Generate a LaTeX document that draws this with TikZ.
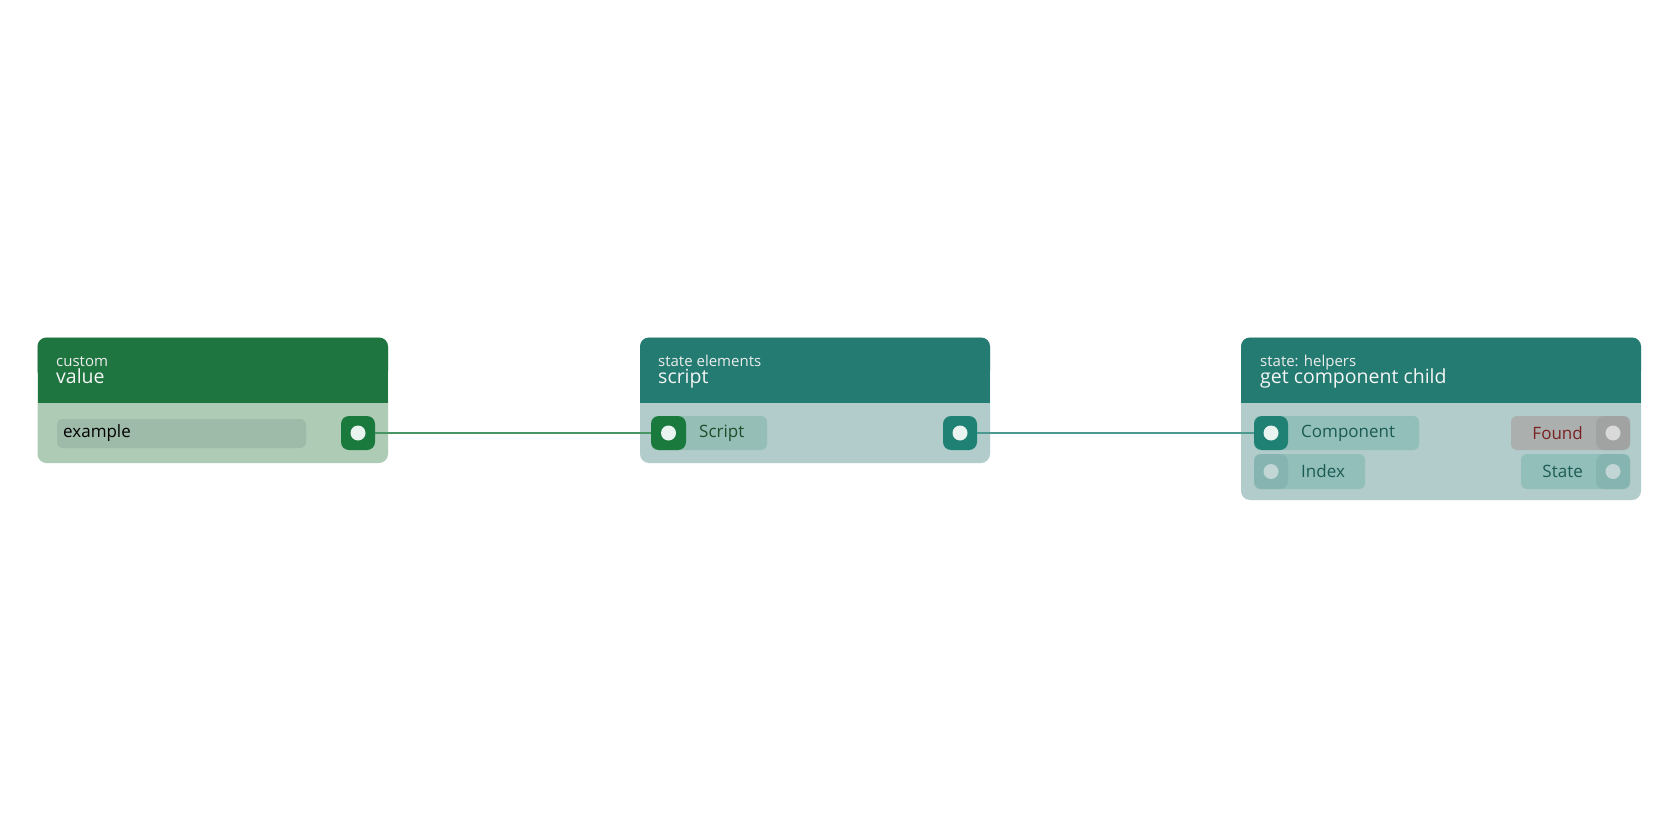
\documentclass[tikz,border=0pt]{standalone}
\usepackage{fontspec}
\setmainfont{Open Sans}
\definecolor{ghead}{HTML}{1F7540}
\definecolor{gbody}{HTML}{ADCBB5}
\definecolor{gfield}{HTML}{9DBBA8}
\definecolor{gport}{HTML}{1A7A3E}
\definecolor{thead}{HTML}{237B71}
\definecolor{tbody}{HTML}{B1CCCB}
\definecolor{tpill}{HTML}{92BFB9}
\definecolor{tport}{HTML}{1F8074}
\definecolor{tdim}{HTML}{86B4B1}
\definecolor{fpill}{HTML}{ABAFAE}
\definecolor{fport}{HTML}{A0A3A2}
\definecolor{ttext}{HTML}{1C5A55}
\definecolor{gtext}{HTML}{1E4F2D}
\definecolor{redtext}{HTML}{7A2222}
\definecolor{dot}{HTML}{E9F3F0}
\begin{document}
\begin{tikzpicture}[x=1pt,y=-1pt,
  sub/.style={anchor=base west,text=white!85!gray,font=\fontsize{15}{15}\selectfont,inner sep=0},
  ttl/.style={anchor=base west,text=white!92!gray,font=\fontsize{19.5}{19.5}\selectfont,inner sep=0},
  lbl/.style={anchor=west,font=\fontsize{17}{17}\selectfont,inner sep=0},
  dotc/.style={fill=dot,draw=none},
  wire/.style={line width=1.6pt}]
\useasboundingbox (0,0) rectangle (1680,840);
\fill[white] (0,0) rectangle (1680,840);
% node 1
\fill[gbody,rounded corners=9] (37.5,337.5) rectangle (388,463);
\fill[ghead,rounded corners=9] (37.5,337.5) rectangle (388,380);
\fill[ghead] (37.5,370) rectangle (388,403);
\node[sub] (n1s) at (56,366) {custom};
\node[ttl] (n1t) at (56,383) {value};
\fill[gfield,rounded corners=6] (57,419) rectangle (306,448);
\node[lbl,text=black] (n1f) at (63,433) {example};
\fill[gport,rounded corners=8] (341,416) rectangle (375,450);
\node[circle,minimum size=15,inner sep=0,dotc] (o1) at (358,433) {};
% node 2
\fill[tbody,rounded corners=9] (640,337.5) rectangle (990,463);
\fill[thead,rounded corners=9] (640,337.5) rectangle (990,380);
\fill[thead] (640,370) rectangle (990,403);
\node[sub] (n2s) at (658,366) {state elements};
\node[ttl] (n2t) at (658,383) {script};
\fill[tpill!80!gfield,rounded corners=6] (651,416) rectangle (767,450);
\fill[gport,rounded corners=8] (651,416) rectangle (686,450);
\node[circle,minimum size=15,inner sep=0,dotc] (i2) at (668.5,433) {};
\node[lbl,text=gtext] (l2) at (699,433) {Script};
\fill[tport,rounded corners=8] (943,416) rectangle (977,450);
\node[circle,minimum size=15,inner sep=0,dotc] (o2) at (960,433) {};
% node 3
\fill[tbody,rounded corners=9] (1241,337.5) rectangle (1641,500);
\fill[thead,rounded corners=9] (1241,337.5) rectangle (1641,380);
\fill[thead] (1241,370) rectangle (1641,403);
\node[sub] (n3s) at (1260,366) {state: helpers};
\node[ttl] (n3t) at (1260,383) {get component child};
\fill[tpill,rounded corners=6] (1254,416) rectangle (1419,450);
\fill[tport,rounded corners=8] (1254,416) rectangle (1288,450);
\node[circle,minimum size=15,inner sep=0,dotc] (i3a) at (1271,433) {};
\node[lbl,text=ttext] (l3a) at (1301,433) {Component};
\fill[tpill,rounded corners=6] (1254,454) rectangle (1365,489);
\fill[tdim,rounded corners=8] (1254,454) rectangle (1288,489);
\node[circle,minimum size=15,inner sep=0,fill=tbody!80!white] (i3b) at (1271,471.5) {};
\node[lbl,text=ttext] (l3b) at (1301,471.5) {Index};
\fill[fpill,rounded corners=6] (1511,416) rectangle (1630,450);
\fill[fport,rounded corners=8] (1596,416) rectangle (1630,450);
\node[circle,minimum size=15,inner sep=0,fill=gray!30] (o3a) at (1613,433) {};
\node[lbl,anchor=east,text=redtext] (l3c) at (1583,433) {Found};
\fill[tpill,rounded corners=6] (1521,454) rectangle (1630,489);
\fill[tdim,rounded corners=8] (1596,454) rectangle (1630,489);
\node[circle,minimum size=15,inner sep=0,fill=tbody!80!white] (o3b) at (1613,471.5) {};
\node[lbl,anchor=east,text=ttext] (l3d) at (1583,471.5) {State};
% wires
\draw[wire,color=gport!80!white] (375,433) -- (651,433);
\draw[wire,color=tport!80!white] (977,433) -- (1254,433);
\end{tikzpicture}
\end{document}
